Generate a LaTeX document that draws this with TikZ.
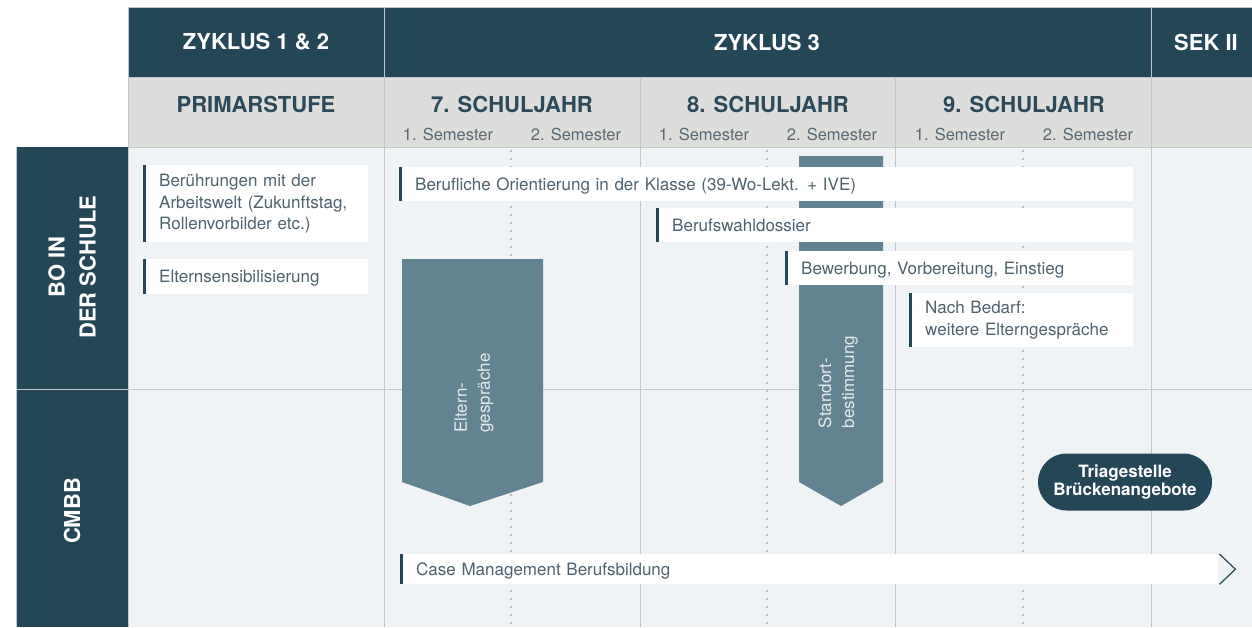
\documentclass[tikz,border=0pt]{standalone}
\usepackage{fontspec}
\setmainfont{TeX Gyre Heros}
\usetikzlibrary{shapes.misc,calc,positioning}

\definecolor{headdark}{RGB}{36,71,88}
\definecolor{titleblue}{RGB}{44,74,90}
\definecolor{rowgrey}{RGB}{221,221,219}
\definecolor{bodybg}{RGB}{240,243,246}
\definecolor{gridgrey}{RGB}{196,199,201}
\definecolor{dotgrey}{RGB}{165,169,172}
\definecolor{boxtext}{RGB}{78,98,110}
\definecolor{semgrey}{RGB}{90,104,113}
\definecolor{markerblue}{RGB}{98,131,145}
\definecolor{markertxt}{RGB}{228,235,238}

\newcommand{\headfont}{\fontsize{22}{26}\selectfont\bfseries}
\newcommand{\semfont}{\fontsize{16.5}{20}\selectfont}
\newcommand{\sidefont}{\fontsize{22}{31}\selectfont\bfseries}
\newcommand{\boxfont}{\fontsize{17}{21.5}\selectfont}
\newcommand{\markerfont}{\fontsize{17}{23}\selectfont}
\newcommand{\triagefont}{\fontsize{17}{18.5}\selectfont\bfseries}

\begin{document}
\begin{tikzpicture}[x=1pt,y=-1pt,
  every node/.style={inner sep=0pt},
  headtext/.style={font=\headfont,text=white},
  yeartext/.style={font=\headfont,text=titleblue},
  semtext/.style={font=\semfont,text=semgrey},
  sidetext/.style={font=\sidefont,text=white,rotate=90,align=center},
  infobox/.style={fill=white,anchor=north west,align=left,inner xsep=16pt,inner ysep=0pt,text=boxtext,font=\boxfont,minimum height=34pt},
  oneline/.style={infobox,text depth=0pt},
  bar/.style={draw=headdark,line width=3pt},
  gridline/.style={draw=gridgrey,line width=1pt},
  dotline/.style={draw=dotgrey,line width=2.3pt,line cap=round,dash pattern=on 0pt off 8pt},
  marker/.style={fill=markerblue},
  markertext/.style={rotate=90,align=left,text=markertxt,font=\markerfont},
  triage/.style={rounded rectangle,fill=headdark,text=white,font=\triagefont,align=center,minimum width=174pt,minimum height=57pt},
  chevron/.style={draw=headdark,line width=1.2pt}]
\useasboundingbox (0,0) rectangle (1252,627);
% Flaechen
\fill[bodybg] (128,147) rectangle (1252,627);
\fill[rowgrey] (128,77) rectangle (1252,147);
\fill[headdark] (128,7) rectangle (1252,77);
\fill[headdark] (16,147) rectangle (128,627);
% Raster
\draw[gridline] (128,7) -- (1252,7) (128,7) -- (128,627) (16,147) -- (16,627);
\draw[gridline] (128,77) -- (1252,77) (128,147) -- (1252,147) (16,389) -- (1252,389);
\foreach \x in {384,1151} \draw[gridline] (\x,7) -- (\x,627);
\foreach \x in {640,895} \draw[gridline] (\x,77) -- (\x,627);
% Kopfzeilen
\node[headtext] (ZyklusEinsZwei) at (256,42) {ZYKLUS 1 \& 2};
\node[headtext] (ZyklusDrei) at (767,42) {ZYKLUS 3};
\node[headtext] (SekZwei) at (1206,42) {SEK II};
\node[yeartext] (Primarstufe) at (256,104) {PRIMARSTUFE};
\foreach \x/\n in {512/7,768/8,1024/9} {
  \node[yeartext] (Jahr\n) at (\x,104) {\n. SCHULJAHR};
  \node[semtext] (SemA\n) at (\x-64,134) {1. Semester};
  \node[semtext] (SemB\n) at (\x+64,134) {2. Semester};
  \draw[dotline] (\x-1,151) -- (\x-1,627);
}
% Zeilen links
\node[sidetext] (BoInSchule) at (72,267) {BO IN\\DER SCHULE};
\node[sidetext] (Cmbb) at (72,511) {CMBB};
% Pfeile
\fill[marker] (402,259) -- (543,259) -- (543,482) -- (470,506) -- (402,482) -- cycle;
\node[markertext] (Elterngespraeche) at (474,393) {Eltern-\\gespräche};
\fill[marker] (799,156) -- (883,156) -- (883,482) -- (841,506) -- (799,482) -- cycle;
\node[markertext] (Standortbestimmung) at (838,382) {Standort-\\bestimmung};
% Kaestchen
\node[infobox,text width=193pt,minimum height=77pt] (Beruehrungen) at (143,165) {Berührungen mit der\\Arbeitswelt (Zukunftstag,\\Rollenvorbilder etc.)};
\node[oneline,text width=193pt,minimum height=35pt] (Elternsensibilisierung) at (143,259) {Elternsensibilisierung};
\node[oneline,text width=702pt] (BerufOrientierung) at (399,167) {Berufliche Orientierung in der Klasse (39-Wo-Lekt. + IVE)};
\node[oneline,text width=445pt] (Berufswahldossier) at (656,208) {Berufswahldossier};
\node[oneline,text width=316pt] (Bewerbung) at (785,251) {Bewerbung, Vorbereitung, Einstieg};
\node[infobox,text width=192pt,minimum height=54pt] (NachBedarf) at (909,293) {Nach Bedarf:\\weitere Elterngespräche};
\node[oneline,text width=786pt,minimum height=30pt] (CaseManagement) at (400,554) {Case Management Berufsbildung};
\foreach \b in {Beruehrungen,Elternsensibilisierung,BerufOrientierung,Berufswahldossier,Bewerbung,NachBedarf,CaseManagement}
  \draw[bar] ($(\b.north west)+(1.5,0)$) -- ($(\b.south west)+(1.5,0)$);
\draw[chevron] ($(CaseManagement.north east)+(1,0)$) -- ($(CaseManagement.east)+(17,0)$) -- ($(CaseManagement.south east)+(1,0)$);
% Triage
\node[triage] (Triagestelle) at (1125,482) {Triagestelle\\Brückenangebote};
\end{tikzpicture}
\end{document}
